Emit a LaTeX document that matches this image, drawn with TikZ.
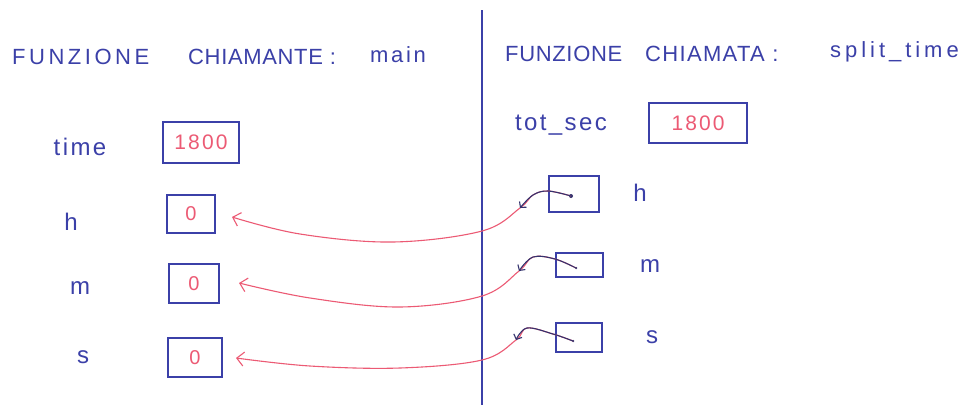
\documentclass[tikz,border=0pt]{standalone}
\usepackage{fontspec}
\setmainfont{Liberation Sans}
\usetikzlibrary{arrows.meta}
\definecolor{pen}{HTML}{3B40A8}
\definecolor{dark}{HTML}{34336E}
\definecolor{ink}{HTML}{EC5A74}
\tikzset{
  lbl/.style={text=pen, font=\fontsize{24}{26}\selectfont\addfontfeature{LetterSpace=10}, inner sep=0pt},
  ttl/.style={text=pen, inner sep=0pt, anchor=west},
  tf/.style={font=\fontsize{22}{24}\selectfont\addfontfeature{LetterSpace=#1}},
  cell/.style={draw=pen, line width=1.4pt, text=ink, inner sep=0pt},
  num/.style={font=\fontsize{21}{24}\selectfont\addfontfeature{LetterSpace=10}},
  zero/.style={font=\fontsize{20}{22}\selectfont},
  ptr/.style={draw=ink, line width=1.1pt, -{Straight Barb[length=7pt,width=14pt,line width=1.1pt]}},
  hook/.style={draw=dark, line width=1.1pt, -{Straight Barb[length=4pt,width=9pt,line width=1.1pt]}},
  dot/.style={circle, fill=dark, inner sep=0pt, minimum size=4pt}
}
\begin{document}
\begin{tikzpicture}[x=1pt,y=-1pt]
\useasboundingbox (0,0) rectangle (966,405);
\fill[white] (0,0) rectangle (966,405);
% divider
\coordinate (dtop) at (482,10);
\coordinate (dbot) at (482,405);
\draw[pen, line width=1.5pt] (dtop) -- (dbot);
% titles
\node[ttl, tf=16] (t1a) at (12,57) {FUNZIONE};
\node[ttl, tf=3] (t1b) at (188,57) {CHIAMANTE :};
\node[ttl, tf=12] (t1c) at (370,55) {main};
\node[ttl, tf=3] (t2a) at (505,54) {FUNZIONE};
\node[ttl, tf=6] (t2b) at (645,54) {CHIAMATA :};
\node[ttl, tf=18] (t2c) at (830,52) {split\_time};
% left side
\node[lbl] (ltime) at (80,147) {time};
\node[lbl] (lh) at (71,222) {h};
\node[lbl] (lm) at (80,288) {m};
\node[lbl] (ls) at (83,357) {s};
\node[cell, num, minimum width=76pt, minimum height=41pt] (btime) at (201,142.5) {1800};
\node[cell, zero, minimum width=48pt, minimum height=38pt] (bh) at (191,214) {0};
\node[cell, zero, minimum width=50pt, minimum height=39pt] (bm) at (194,283.5) {0};
\node[cell, zero, minimum width=54pt, minimum height=39pt] (bs) at (195,357.5) {0};
% right side
\node[lbl] (rtot) at (561,125) {tot\_sec};
\node[cell, num, minimum width=98pt, minimum height=40pt] (btot) at (698,123) {1800};
\node[cell, minimum width=50pt, minimum height=36pt] (rh) at (574,194) {};
\node[cell, minimum width=47pt, minimum height=24pt] (rm) at (579.5,265) {};
\node[cell, minimum width=46pt, minimum height=29pt] (rs) at (579,337.5) {};
\node[lbl] (rhl) at (640,193) {h};
\node[lbl] (rml) at (650,266) {m};
\node[lbl] (rsl) at (652,337) {s};
% pointer origins and ends
\node[dot] (ph) at (571,196) {};
\node[dot, minimum size=2.5pt] (pm) at (576,268) {};
\node[dot, minimum size=2.5pt] (ps) at (573,341) {};
\coordinate (kh) at (520,208);
\coordinate (km) at (519,271);
\coordinate (ks) at (516,340);
\coordinate (ah) at (232,217);
\coordinate (am) at (239,283);
\coordinate (as) at (236,358);
% pointers (red, full length)
\draw[ptr] plot[smooth, tension=0.6] coordinates {(ph.center) (548,191) (533,195) (kh) (482,231) (393,242) (300,234) (ah)};
\draw[ptr] plot[smooth, tension=0.6] coordinates {(pm.center) (555,259) (533,257) (km) (482,296) (400,307) (310,298) (am)};
\draw[ptr] plot[smooth, tension=0.6] coordinates {(ps.center) (553,334) (527,328) (ks) (482,360) (400,368) (310,366) (as)};
% pen overlay near the origins
\draw[hook] plot[smooth, tension=0.6] coordinates {(ph.center) (548,191) (533,195) (kh)};
\draw[hook] plot[smooth, tension=0.6] coordinates {(pm.center) (555,259) (533,257) (km)};
\draw[hook] plot[smooth, tension=0.6] coordinates {(ps.center) (553,334) (527,328) (ks)};
\end{tikzpicture}
\end{document}
